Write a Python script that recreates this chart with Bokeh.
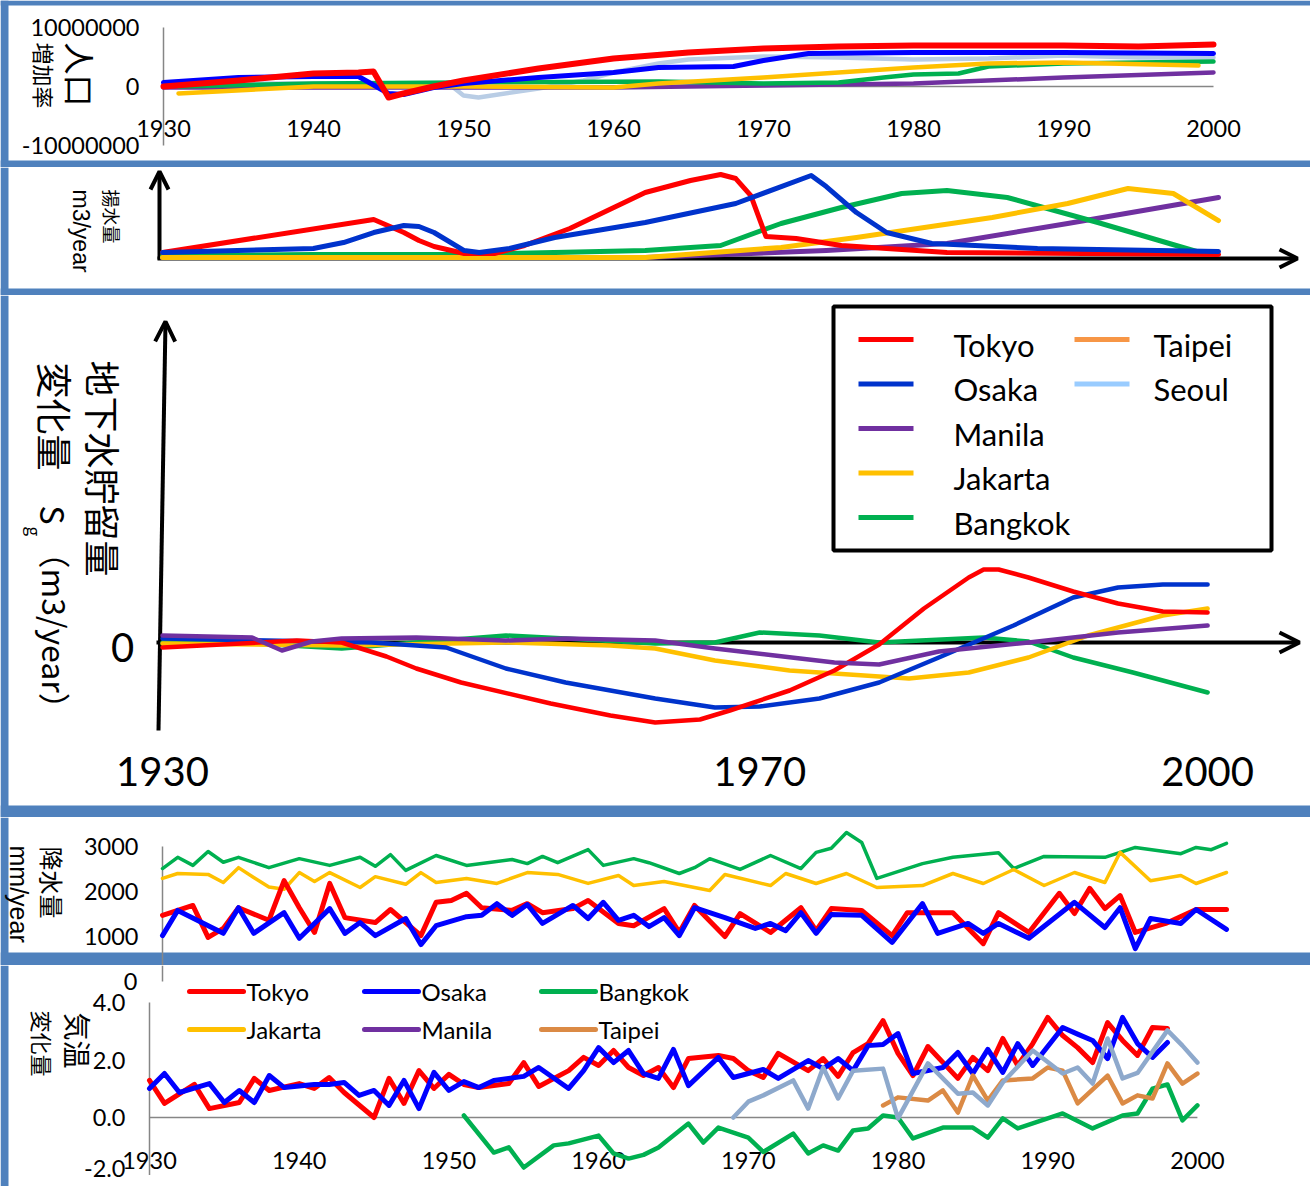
import math
from bokeh.plotting import figure
from bokeh.layouts import column
from bokeh.models import Range1d, Arrow, OpenHead
from bokeh.core.properties import value
from bokeh.embed import file_html
from bokeh.resources import INLINE

# ---------------- data ----------------
decade_ticks = [1930, 1940, 1950, 1960, 1970, 1980, 1990, 2000]
storage_ticks = [1930, 1970, 2000]

# panel 1: population increase
pop_ticks = [10000000, 0, -10000000]
pop_tick_labels = ["10000000", "0", "-10000000"]
pop_tokyo_years = [1930, 1935, 1940, 1943, 1944, 1945, 1946, 1948, 1950, 1955, 1960, 1965, 1970, 1975, 1980, 1990, 1995, 2000]
pop_tokyo = [0, 1017000, 2203000, 2373000, 2542000, -1864000, -1186000, 0, 1017000, 3051000, 4746000, 5763000, 6441000, 6780000, 6949000, 6949000, 6780000, 7119000]
pop_osaka_years = [1930, 1935, 1940, 1943, 1945, 1946, 1948, 1950, 1955, 1960, 1963, 1968, 1970, 1973, 1980, 1990, 2000]
pop_osaka = [678000, 1525000, 1695000, 1695000, -1186000, -1356000, -169000, 508000, 1525000, 2373000, 3220000, 3390000, 4407000, 5593000, 5763000, 5763000, 5593000]
pop_seoul_years = [1930, 1949, 1950, 1951, 1955, 1958, 1960, 1963, 1965, 1970, 1975, 1980, 1985, 1990, 1995, 2000]
pop_seoul = [508000, 508000, -1525000, -1864000, -339000, 1017000, 2373000, 3898000, 4576000, 5085000, 4915000, 4576000, 4746000, 5254000, 4915000, 4915000]
pop_bangkok_years = [1931, 1940, 1950, 1963, 1970, 1975, 1978, 1980, 1983, 1985, 1990, 2000]
pop_bangkok = [0, 508000, 678000, 847000, 508000, 678000, 1525000, 2034000, 2203000, 3390000, 3898000, 4237000]
pop_jakarta_years = [1931, 1940, 1950, 1960, 1963, 1970, 1980, 1985, 1990, 1999]
pop_jakarta = [-1186000, 0, 0, -169000, 508000, 1525000, 3220000, 3898000, 4068000, 3559000]
pop_manila_years = [1930, 1960, 1970, 1980, 1990, 2000]
pop_manila = [-169000, -169000, 169000, 508000, 1525000, 2373000]

# panel 2: pumping (relative units)
pump_tokyo_years = [1930, 1944, 1946, 1947, 1948, 1950, 1952, 1954, 1957, 1962, 1965, 1967, 1968, 1969, 1970, 1972, 1975, 1982, 2000]
pump_tokyo = [5.9, 44.7, 29.4, 20.0, 12.9, 4.7, 4.7, 14.1, 34.1, 76.5, 90.6, 97.6, 92.9, 72.9, 24.7, 22.4, 14.1, 5.9, 3.5]
pump_osaka_years = [1930, 1940, 1942, 1944, 1946, 1947, 1948, 1950, 1951, 1953, 1956, 1962, 1968, 1973, 1974, 1976, 1978, 1981, 1988, 2000]
pump_osaka = [5.9, 10.6, 17.6, 29.4, 37.6, 36.5, 29.4, 8.2, 5.9, 10.6, 23.5, 41.2, 63.5, 96.5, 83.5, 52.9, 29.4, 16.5, 10.6, 7.1]
pump_bangkok_years = [1930, 1940, 1950, 1962, 1967, 1971, 1975, 1979, 1982, 1986, 1992, 1999]
pump_bangkok = [2.4, 3.5, 3.5, 8.2, 14.1, 40.0, 58.8, 75.3, 78.8, 70.6, 41.2, 4.7]
pump_jakarta_years = [1930, 1962, 1971, 1976, 1985, 1990, 1994, 1997, 2000]
pump_jakarta = [0, 0, 11.8, 23.5, 47.1, 63.5, 81.2, 75.3, 43.5]
pump_manila_years = [1930, 1962, 1974, 1982, 1990, 2000]
pump_manila = [0, 0, 8.2, 16.5, 40.0, 70.6]

# panel 3: groundwater storage change (relative units)
sg_tokyo_years = [1930, 1939, 1942, 1945, 1947, 1950, 1956, 1960, 1963, 1966, 1968, 1972, 1975, 1978, 1981, 1984, 1985, 1986, 1988, 1991, 1994, 1997, 2000]
sg_tokyo = [-5, 2, 0, -14, -26, -40, -61, -73, -80, -77, -68, -48, -28, -2, 34, 65, 73, 73, 65, 51, 39, 31, 30]
sg_osaka_years = [1930, 1944, 1949, 1953, 1957, 1963, 1967, 1970, 1974, 1978, 1982, 1987, 1991, 1994, 1997, 2000]
sg_osaka = [4, 0, -5, -26, -40, -56, -65, -64, -56, -40, -15, 17, 45, 55, 58, 58]
sg_bangkok_years = [1930, 1936, 1942, 1947, 1953, 1957, 1963, 1967, 1970, 1974, 1978, 1985, 1988, 1991, 1995, 2000]
sg_bangkok = [0, -1, -6, 0, 7, 4, -1, 0, 10, 7, 0, 5, 1, -15, -30, -50]
sg_jakarta_years = [1930, 1942, 1953, 1960, 1963, 1967, 1972, 1980, 1984, 1988, 1992, 1997, 2000]
sg_jakarta = [-1, -3, 0, -3, -6, -18, -28, -36, -30, -15, 7, 27, 34]
sg_manila_years = [1930, 1936, 1938, 1940, 1942, 1947, 1953, 1957, 1963, 1967, 1971, 1975, 1978, 1982, 1988, 1994, 2000]
sg_manila = [7, 5, -8, 1, 4, 5, 2, 4, 2, -6, -13, -20, -22, -9, 0, 10, 17]

legend3_labels = ["Tokyo", "Osaka", "Manila", "Jakarta", "Bangkok", "Taipei", "Seoul"]

# panel 4: precipitation (mm/year)
precip_ticks = [0, 1000, 2000, 3000]
precip_tick_labels = ["0", "1000", "2000", "3000"]
pr_tokyo_years = [1930, 1932, 1933, 1934, 1935, 1937, 1938, 1939, 1940, 1941, 1942, 1944, 1945, 1947, 1948, 1949, 1950, 1951, 1953, 1954, 1955, 1957, 1958, 1960, 1961, 1963, 1964, 1965, 1967, 1968, 1970, 1972, 1973, 1974, 1976, 1978, 1979, 1982, 1984, 1985, 1987, 1989, 1990, 1991, 1992, 1993, 1994, 1996, 1998, 2000]
pr_tokyo = [1470, 1690, 980, 1180, 1640, 1360, 2240, 1640, 1090, 2180, 1420, 1310, 1600, 1020, 1760, 1800, 1960, 1640, 1580, 1730, 1530, 1620, 1800, 1290, 1240, 1620, 1090, 1690, 1000, 1510, 1090, 1640, 1130, 1620, 1580, 1020, 1530, 1530, 840, 1530, 1090, 1960, 1510, 2070, 1620, 1910, 1090, 1290, 1600, 1600]
pr_osaka_years = [1930, 1931, 1934, 1935, 1936, 1938, 1939, 1941, 1942, 1943, 1944, 1946, 1947, 1948, 1950, 1951, 1952, 1953, 1954, 1955, 1957, 1958, 1959, 1960, 1961, 1962, 1963, 1964, 1965, 1967, 1969, 1970, 1971, 1972, 1973, 1974, 1976, 1978, 1980, 1981, 1983, 1984, 1985, 1987, 1990, 1992, 1993, 1994, 1995, 1997, 1998, 2000]
pr_osaka = [1020, 1580, 1070, 1640, 1070, 1530, 960, 1620, 1070, 1310, 1020, 1400, 820, 1240, 1440, 1470, 1730, 1470, 1710, 1290, 1690, 1400, 1760, 1360, 1470, 1220, 1420, 1020, 1640, 1420, 1180, 1290, 1130, 1530, 1070, 1490, 1470, 870, 1730, 1070, 1290, 1070, 1290, 960, 1760, 1200, 1640, 730, 1400, 1290, 1600, 1160]
pr_bangkok_years = [1930, 1931, 1932, 1933, 1934, 1935, 1937, 1939, 1941, 1943, 1944, 1945, 1946, 1948, 1950, 1953, 1954, 1955, 1956, 1958, 1959, 1961, 1962, 1964, 1965, 1966, 1968, 1970, 1972, 1973, 1974, 1975, 1976, 1977, 1980, 1982, 1985, 1986, 1988, 1992, 1994, 1997, 1998, 1999, 2000]
pr_bangkok = [2510, 2760, 2580, 2890, 2650, 2760, 2530, 2730, 2580, 2760, 2560, 2820, 2470, 2800, 2580, 2710, 2620, 2780, 2640, 2930, 2580, 2730, 2640, 2400, 2530, 2730, 2490, 2800, 2510, 2870, 2960, 3310, 3090, 2290, 2620, 2760, 2860, 2510, 2780, 2760, 2980, 2840, 2980, 2930, 3070]
pr_jakarta_years = [1930, 1931, 1933, 1934, 1935, 1936, 1937, 1938, 1939, 1940, 1941, 1943, 1944, 1946, 1947, 1948, 1950, 1952, 1954, 1956, 1958, 1960, 1961, 1963, 1966, 1967, 1970, 1971, 1973, 1975, 1977, 1980, 1982, 1984, 1986, 1988, 1990, 1992, 1993, 1995, 1997, 1998, 2000]
pr_jakarta = [2290, 2400, 2380, 2200, 2530, 2310, 2100, 2050, 2420, 2220, 2420, 2090, 2330, 2160, 2420, 2200, 2290, 2180, 2420, 2380, 2180, 2356, 2133, 2222, 2022, 2378, 2133, 2400, 2178, 2400, 2089, 2133, 2400, 2178, 2489, 2133, 2422, 2200, 2870, 2240, 2356, 2178, 2422]

# panel 5: temperature change
temp_ticks = [-2.0, 0.0, 2.0, 4.0]
temp_tick_labels = ["-2.0", "0.0", "2.0", "4.0"]
t_tokyo_years = [1930, 1931, 1933, 1934, 1936, 1937, 1938, 1940, 1941, 1942, 1943, 1945, 1946, 1947, 1948, 1949, 1950, 1951, 1952, 1954, 1955, 1956, 1958, 1959, 1960, 1961, 1962, 1963, 1964, 1965, 1966, 1968, 1969, 1970, 1971, 1972, 1974, 1975, 1976, 1977, 1978, 1979, 1980, 1981, 1982, 1984, 1985, 1986, 1987, 1988, 1989, 1990, 1991, 1992, 1993, 1994, 1995, 1996, 1997, 1998]
t_tokyo = [1.29, 0.49, 1.15, 0.31, 0.52, 1.36, 0.94, 1.18, 1.01, 1.39, 0.87, 0.0, 1.36, 0.49, 1.63, 1.01, 1.50, 1.15, 1.04, 1.18, 1.91, 1.08, 1.63, 2.09, 1.81, 2.33, 1.74, 1.46, 1.74, 1.04, 2.05, 2.16, 2.05, 1.63, 1.39, 2.23, 1.63, 2.05, 1.43, 2.26, 2.57, 3.37, 2.23, 1.46, 2.47, 1.36, 2.09, 1.63, 2.75, 1.81, 2.57, 3.48, 2.85, 2.43, 1.91, 3.30, 2.68, 2.16, 3.13, 3.10]
t_osaka_years = [1930, 1931, 1932, 1934, 1935, 1936, 1937, 1938, 1939, 1941, 1942, 1943, 1944, 1945, 1946, 1947, 1948, 1949, 1950, 1951, 1952, 1953, 1955, 1956, 1958, 1959, 1960, 1961, 1962, 1963, 1964, 1965, 1966, 1968, 1969, 1971, 1972, 1974, 1975, 1976, 1977, 1978, 1979, 1980, 1981, 1983, 1984, 1985, 1986, 1987, 1988, 1989, 1991, 1992, 1993, 1994, 1995, 1996, 1997, 1998]
t_osaka = [1.01, 1.53, 0.87, 1.18, 0.52, 0.94, 0.52, 1.46, 1.04, 1.15, 1.15, 1.22, 0.77, 0.94, 0.42, 1.29, 0.31, 1.57, 0.94, 1.25, 1.04, 1.29, 1.43, 1.74, 1.01, 1.63, 2.43, 1.91, 2.33, 1.53, 1.36, 2.37, 1.11, 2.09, 1.39, 1.67, 1.36, 1.98, 1.70, 2.05, 1.63, 2.50, 2.54, 2.92, 1.53, 1.74, 2.26, 1.53, 2.37, 1.57, 2.57, 1.81, 3.13, 2.90, 2.68, 2.05, 3.48, 2.57, 2.09, 2.61]
t_bangkok_years = [1951, 1953, 1954, 1955, 1957, 1958, 1960, 1961, 1962, 1963, 1964, 1966, 1967, 1968, 1970, 1971, 1973, 1974, 1975, 1976, 1977, 1978, 1979, 1980, 1981, 1983, 1985, 1986, 1987, 1988, 1991, 1993, 1995, 1996, 1997, 1998, 1999, 2000]
t_bangkok = [0.07, -1.22, -1.04, -1.74, -0.97, -0.90, -0.63, -1.25, -1.43, -1.30, -1.04, -0.21, -0.87, -0.35, -0.70, -1.20, -0.56, -1.25, -0.97, -1.15, -0.45, -0.38, 0.07, 0.0, -0.73, -0.35, -0.35, -0.70, -0.03, -0.38, 0.14, -0.38, 0.07, 0.14, 1.00, 1.15, -0.10, 0.42]
t_seoul_years = [1969, 1970, 1971, 1973, 1974, 1975, 1976, 1977, 1979, 1980, 1982, 1984, 1985, 1986, 1987, 1989, 1991, 1992, 1993, 1994, 1995, 1996, 1998, 1999, 2000]
t_seoul = [0.0, 0.55, 0.77, 1.29, 0.31, 1.74, 0.66, 1.63, 1.70, -0.03, 1.88, 0.83, 0.87, 0.42, 1.22, 2.33, 1.53, 1.74, 1.18, 2.75, 1.36, 1.55, 3.03, 2.50, 1.91]
t_taipei_years = [1979, 1980, 1982, 1983, 1984, 1985, 1986, 1987, 1989, 1990, 1991, 1992, 1994, 1995, 1996, 1997, 1998, 1999, 2000]
t_taipei = [0.42, 0.70, 0.59, 0.94, 0.17, 1.46, 0.59, 1.29, 1.36, 1.74, 1.63, 0.49, 1.46, 0.49, 0.77, 0.66, 1.88, 1.18, 1.53]

legend5_labels = ["Tokyo", "Osaka", "Bangkok", "Jakarta", "Manila", "Taipei"]

# ---------------- styles ----------------
RED = "#FF0000"
BLUE = "#0000FF"
BLUE2 = "#0033CC"
GREEN = "#00B050"
YELLOW = "#FFC000"
PURPLE = "#7030A0"
SEOUL_P1 = "#B9CDE5"
SEOUL_P5 = "#8EA9CC"
SEOUL_LEG = "#99CCFF"
TAIPEI_LEG = "#F79646"
TAIPEI_P5 = "#DB8A45"
BAND = "#4F81BD"
GRAY = "#868686"
LATIN = "Lato"
CJK = "Noto Sans CJK JP"
CW = -math.pi / 2  # clockwise rotation (reads top to bottom)
W = 1310
TICK = 23.5


def panel(top, height, xa, xb, yc, yd):
    def X(px):
        return 1930 + (px - xa) / xb

    def Y(py):
        return (yc - py) / yd

    p = figure(width=W, height=height, title=None,
               x_range=Range1d(X(0), X(W)),
               y_range=Range1d(Y(top + height), Y(top)),
               toolbar_location=None, output_backend="svg",
               x_axis_type=None, y_axis_type=None, min_border=0,
               outline_line_color=None, background_fill_color="white",
               border_fill_color="white")
    p.grid.visible = False
    # left frame strip
    p.quad(left=X(0), right=X(8), top=Y(top), bottom=Y(top + height), fill_color=BAND, line_color=None)
    return p, X, Y


def txt(p, xs, ys, texts, size, font=LATIN, align="center", baseline="middle", angle=0.0):
    p.text(x=xs, y=ys, text=texts, text_font=value(font), text_font_size=value(f"{size}px"),
           text_align=align, text_baseline=baseline, angle=angle, text_color="black")


def band(p, X, Y, y0, y1):
    p.quad(left=X(0), right=X(W), top=Y(y0), bottom=Y(y1), fill_color=BAND, line_color=None)


def ln(p, xs, ys, color, w):
    p.line(xs, ys, line_color=color, line_width=w, line_cap="round", line_join="round")


# ---------------- panel 1 ----------------
p1, X1, Y1 = panel(0, 167, 163, 15.0, 86, 59 / 1e7)
band(p1, X1, Y1, 0, 5)
band(p1, X1, Y1, 160, 167)
p1.line([1930, 1930], [max(pop_ticks), min(pop_ticks)], line_color=GRAY, line_width=1.5)
p1.line([decade_ticks[0], decade_ticks[-1]], [0, 0], line_color=GRAY, line_width=1.5)
ln(p1, pop_seoul_years, pop_seoul, SEOUL_P1, 4.5)
ln(p1, pop_manila_years, pop_manila, PURPLE, 4.5)
ln(p1, pop_bangkok_years, pop_bangkok, GREEN, 4.5)
ln(p1, pop_jakarta_years, pop_jakarta, YELLOW, 4.5)
ln(p1, pop_osaka_years, pop_osaka, BLUE, 5)
ln(p1, pop_tokyo_years, pop_tokyo, RED, 6)
txt(p1, [X1(139)] * 3, pop_ticks, pop_tick_labels, TICK, align="right")
txt(p1, decade_ticks, [Y1(128)] * len(decade_ticks), [str(t) for t in decade_ticks], TICK)
txt(p1, [X1(80)], [Y1(42)], ["人口"], 32, font=CJK, align="left", angle=CW)
txt(p1, [X1(44)], [Y1(42)], ["増加率"], 22, font=CJK, align="left", angle=CW)

# ---------------- panel 2 ----------------
p2, X2, Y2 = panel(167, 128, 162, 15.086, 257, 0.85)
band(p2, X2, Y2, 288, 295)
p2.add_layout(Arrow(end=OpenHead(size=18, line_width=4, line_color="black"),
                    x_start=X2(159), y_start=Y2(259), x_end=X2(159), y_end=Y2(171),
                    line_width=4, line_color="black", level="underlay"))
p2.add_layout(Arrow(end=OpenHead(size=18, line_width=4, line_color="black"),
                    x_start=X2(157), y_start=Y2(258), x_end=X2(1297), y_end=Y2(258),
                    line_width=4, line_color="black", level="underlay"))
ln(p2, pump_manila_years, pump_manila, PURPLE, 5)
ln(p2, pump_bangkok_years, pump_bangkok, GREEN, 5)
ln(p2, pump_jakarta_years, pump_jakarta, YELLOW, 5)
ln(p2, pump_tokyo_years, pump_tokyo, RED, 5)
ln(p2, pump_osaka_years, pump_osaka, BLUE2, 5)
txt(p2, [X2(111)], [Y2(189)], ["揚水量"], 18, font=CJK, align="left", angle=CW)
txt(p2, [X2(80)], [Y2(189)], ["m3/year"], 23, font="Liberation Sans", align="left", angle=CW)

# ---------------- panel 3 ----------------
p3, X3, Y3 = panel(295, 522, 162, 14.93, 642, 1.0)
band(p3, X3, Y3, 805, 817)
p3.add_layout(Arrow(end=OpenHead(size=20, line_width=4, line_color="black"),
                    x_start=X3(158), y_start=Y3(730), x_end=X3(165), y_end=Y3(321),
                    line_width=4, line_color="black", level="underlay"))
p3.add_layout(Arrow(end=OpenHead(size=20, line_width=4, line_color="black"),
                    x_start=X3(156), y_start=0, x_end=X3(1299), y_end=0,
                    line_width=4, line_color="black", level="underlay"))
ln(p3, sg_bangkok_years, sg_bangkok, GREEN, 4.5)
ln(p3, sg_jakarta_years, sg_jakarta, YELLOW, 4.5)
ln(p3, sg_osaka_years, sg_osaka, BLUE2, 4.5)
ln(p3, sg_tokyo_years, sg_tokyo, RED, 4.5)
ln(p3, sg_manila_years, sg_manila, PURPLE, 4.5)
txt(p3, [X3(122)], [Y3(647)], ["0"], 40)
txt(p3, storage_ticks, [Y3(771)] * len(storage_ticks), [str(t) for t in storage_ticks], 40)
txt(p3, [X3(103)], [Y3(360)], ["地下水貯留量"], 36, font=CJK, align="left", angle=CW)
txt(p3, [X3(55)], [Y3(362)], ["変化量"], 36, font=CJK, align="left", angle=CW)
txt(p3, [X3(53)], [Y3(505)], ["S"], 32, font=CJK, align="left", angle=CW)
txt(p3, [X3(34)], [Y3(526)], ["g"], 17, font=CJK, align="left", angle=CW)
txt(p3, [X3(55)], [Y3(536)], ["（m3/year）"], 32, font=CJK, align="left", angle=CW)
# legend
leg3_colors = [RED, BLUE2, PURPLE, YELLOW, GREEN, TAIPEI_LEG, SEOUL_LEG]
p3.quad(left=X3(833), right=X3(1271), top=Y3(306), bottom=Y3(550),
        fill_color="white", line_color="black", line_width=4)
lx0, lx1, ly, tx = [], [], [], []
for i, lab in enumerate(legend3_labels):
    c, r = (0, i) if i < 5 else (1, i - 5)
    x0 = [858, 1074][c]
    lx0.append(X3(x0))
    lx1.append(X3(x0 + 55))
    ly.append(Y3(339 + 44.5 * r))
    tx.append(X3([953, 1153][c]))
p3.segment(x0=lx0, y0=ly, x1=lx1, y1=ly, line_color=leg3_colors, line_width=5)
txt(p3, tx, [v - 5 for v in ly], legend3_labels, 31, align="left")

# ---------------- panel 4 ----------------
p4, X4, Y4 = panel(817, 148, 162, 15.2, 981, 0.045)
band(p4, X4, Y4, 952, 965)
p4.line([1930, 1930], [max(precip_ticks), Y4(965)], line_color=GRAY, line_width=1.5)
ln(p4, pr_bangkok_years, pr_bangkok, GREEN, 3.5)
ln(p4, pr_jakarta_years, pr_jakarta, YELLOW, 3.5)
ln(p4, pr_tokyo_years, pr_tokyo, RED, 5)
ln(p4, pr_osaka_years, pr_osaka, BLUE, 5)
txt(p4, [X4(138)] * 3, precip_ticks[1:], precip_tick_labels[1:], TICK, align="right")
txt(p4, [X4(52)], [Y4(846)], ["降水量"], 24, font=CJK, align="left", angle=CW)
txt(p4, [X4(18)], [Y4(845)], ["mm/year"], 25, font="Liberation Sans", align="left", angle=CW)

# ---------------- panel 5 ----------------
p5, X5, Y5 = panel(965, 221, 149, 14.97, 1117, 28.75)
# continuation of the precipitation axis (value 0 of panel 4)
y_p4_zero = Y5(981 - precip_ticks[0] * 0.045)
p5.line([X5(162), X5(162)], [Y5(965), y_p4_zero], line_color=GRAY, line_width=1.5)
txt(p5, [X5(137)], [y_p4_zero], [precip_tick_labels[0]], TICK, align="right")
p5.line([1930, 1930], [max(temp_ticks), min(temp_ticks)], line_color=GRAY, line_width=1.5)
p5.line([decade_ticks[0], decade_ticks[-1]], [0, 0], line_color=GRAY, line_width=1.5)
# keep the lowest tick label inside the page
temp_label_y = [max(t, Y5(1168)) for t in temp_ticks]
txt(p5, [X5(125)] * 4, temp_label_y, temp_tick_labels, TICK, align="right")
txt(p5, decade_ticks, [Y5(1160)] * len(decade_ticks), [str(t) for t in decade_ticks], TICK)
ln(p5, t_tokyo_years, t_tokyo, RED, 5)
ln(p5, t_osaka_years, t_osaka, BLUE, 5)
ln(p5, t_bangkok_years, t_bangkok, GREEN, 4.5)
ln(p5, t_taipei_years, t_taipei, TAIPEI_P5, 4.5)
ln(p5, t_seoul_years, t_seoul, SEOUL_P5, 4.5)
txt(p5, [X5(77)], [Y5(1012)], ["気温"], 28, font=CJK, align="left", angle=CW)
txt(p5, [X5(42)], [Y5(1010)], ["変化量"], 22, font=CJK, align="left", angle=CW)
leg5_colors = [RED, BLUE, GREEN, YELLOW, PURPLE, TAIPEI_P5]
lx0, lx1, ly, tx = [], [], [], []
for i, lab in enumerate(legend5_labels):
    c, r = i % 3, i // 3
    x0 = [189, 364, 541][c]
    lx0.append(X5(x0))
    lx1.append(X5(x0 + 54))
    ly.append(Y5(991 + 38 * r))
    tx.append(X5(x0 + 57))
p5.segment(x0=lx0, y0=ly, x1=lx1, y1=ly, line_color=leg5_colors, line_width=5, line_cap="round")
txt(p5, tx, ly, legend5_labels, 24, align="left")

layout = column(p1, p2, p3, p4, p5, spacing=0)
open("out.html", "w").write(file_html(layout, INLINE))
